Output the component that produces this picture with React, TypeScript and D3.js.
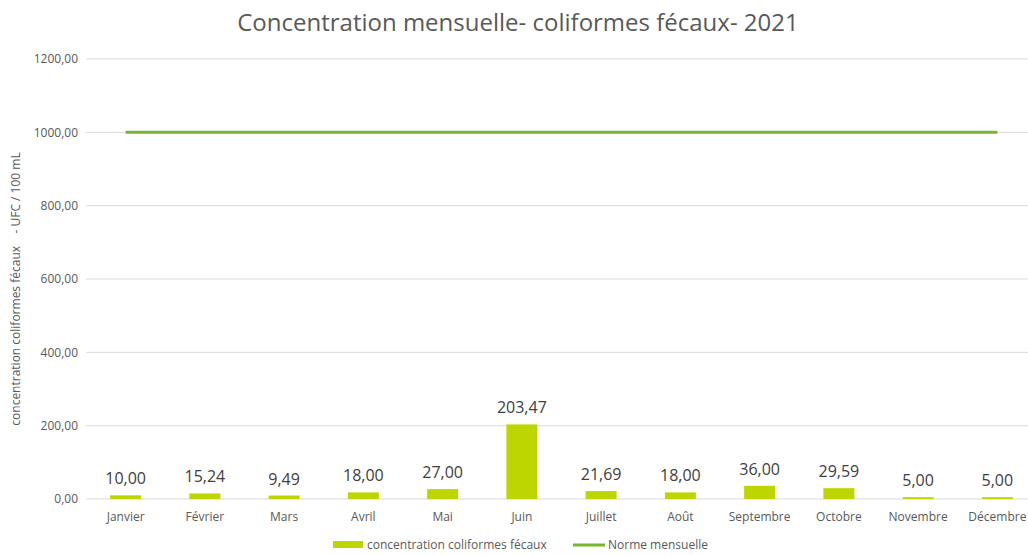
import React, { useRef, useEffect } from 'react';
import * as d3 from 'd3';

const months = ['Janvier', 'Février', 'Mars', 'Avril', 'Mai', 'Juin', 'Juillet', 'Août', 'Septembre', 'Octobre', 'Novembre', 'Décembre'];
const concentration = [10.0, 15.24, 9.49, 18.0, 27.0, 203.47, 21.69, 18.0, 36.0, 29.59, 5.0, 5.0];
const norme = [1000, 1000, 1000, 1000, 1000, 1000, 1000, 1000, 1000, 1000, 1000, 1000];
const yTicks = [0, 200, 400, 600, 800, 1000, 1200];

const fmt = (v: number) => v.toFixed(2).replace('.', ',');

const App = () => {
  const svgRef = useRef<SVGSVGElement>(null);
  const width = 1028;
  const height = 555;

  useEffect(() => {
    const svg = d3.select(svgRef.current);
    svg.selectAll('*').remove();

    const margin = { left: 86, right: -9, top: 59, bottom: 56 };
    const font = 'Open Sans, sans-serif';

    const x = d3.scaleBand()
      .domain(months)
      .range([margin.left, width - margin.right]);
    const y = d3.scaleLinear()
      .domain([0, 1200])
      .range([height - margin.bottom, margin.top]);

    // gridlines
    svg.append('g')
      .selectAll('line')
      .data(yTicks)
      .enter()
      .append('line')
      .attr('x1', margin.left)
      .attr('x2', width)
      .attr('y1', d => y(d))
      .attr('y2', d => y(d))
      .attr('stroke', '#d9d9d9')
      .attr('stroke-width', 1);

    // y tick labels
    svg.append('g')
      .selectAll('text')
      .data(yTicks)
      .enter()
      .append('text')
      .attr('x', 78)
      .attr('y', d => y(d))
      .attr('dy', '0.35em')
      .attr('text-anchor', 'end')
      .attr('font-family', font)
      .attr('font-size', 12)
      .attr('fill', '#595959')
      .text(d => fmt(d));

    // bars
    const bw = 31;
    svg.append('g')
      .selectAll('rect')
      .data(concentration)
      .enter()
      .append('rect')
      .attr('x', (d, i) => x(months[i])! + x.bandwidth() / 2 - bw / 2)
      .attr('width', bw)
      .attr('y', d => y(d))
      .attr('height', d => y(0) - y(d))
      .attr('fill', '#bed600');

    // data labels
    svg.append('g')
      .selectAll('text')
      .data(concentration)
      .enter()
      .append('text')
      .attr('x', (d, i) => x(months[i])! + x.bandwidth() / 2)
      .attr('y', d => y(d) - 11)
      .attr('text-anchor', 'middle')
      .attr('font-family', font)
      .attr('font-size', 16)
      .attr('fill', '#404040')
      .text(d => fmt(d));

    // norme line
    const line = d3.line<number>()
      .x((d, i) => x(months[i])! + x.bandwidth() / 2)
      .y(d => y(d));
    svg.append('path')
      .datum(norme)
      .attr('d', line)
      .attr('fill', 'none')
      .attr('stroke', '#76b82a')
      .attr('stroke-width', 3);

    // x labels
    svg.append('g')
      .selectAll('text')
      .data(months)
      .enter()
      .append('text')
      .attr('x', d => x(d)! + x.bandwidth() / 2)
      .attr('y', 521)
      .attr('text-anchor', 'middle')
      .attr('font-family', font)
      .attr('font-size', 12)
      .attr('fill', '#595959')
      .text(d => d);

    // title
    svg.append('text')
      .attr('x', 518)
      .attr('y', 31)
      .attr('text-anchor', 'middle')
      .attr('font-family', font)
      .attr('font-size', 24)
      .attr('fill', '#595959')
      .text('Concentration mensuelle- coliformes fécaux- 2021');

    // y axis title
    svg.append('text')
      .attr('transform', `translate(20,${(y(0) + y(1200)) / 2 + 10}) rotate(-90)`)
      .attr('text-anchor', 'middle')
      .attr('font-family', font)
      .attr('font-size', 12)
      .attr('fill', '#595959')
      .style('white-space', 'pre')
      .text('concentration coliformes fécaux    - UFC / 100 mL');

    // legend
    const lg = svg.append('g').attr('font-family', font).attr('font-size', 12).attr('fill', '#595959');
    lg.append('rect').attr('x', 333).attr('y', 541).attr('width', 30).attr('height', 7).attr('fill', '#bed600');
    lg.append('text').attr('x', 367).attr('y', 549).text('concentration coliformes fécaux');
    lg.append('line').attr('x1', 573).attr('x2', 605).attr('y1', 545).attr('y2', 545)
      .attr('stroke', '#76b82a').attr('stroke-width', 3);
    lg.append('text').attr('x', 608).attr('y', 549).text('Norme mensuelle');
  }, []);

  return (
    <svg ref={svgRef} width={width} height={height}
      style={{ position: 'absolute', left: 0, top: 0, background: '#fff' }} />
  );
};

export default App;
